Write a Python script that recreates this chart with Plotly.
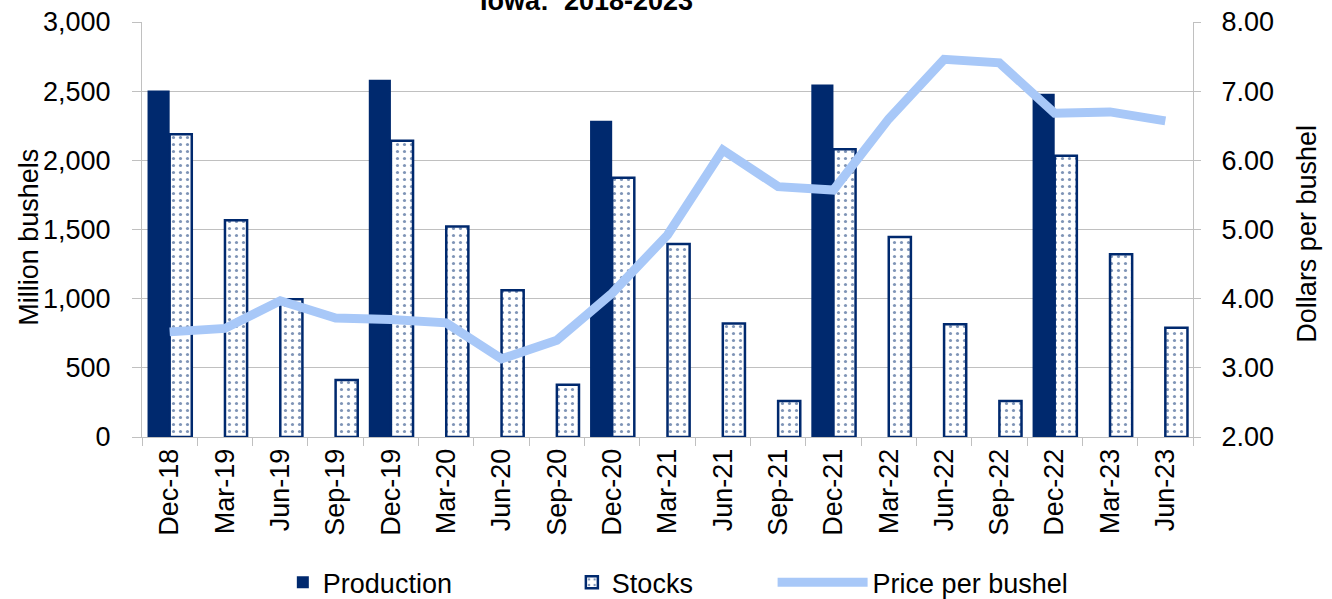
import plotly.graph_objects as go

categories = ["Dec-18", "Mar-19", "Jun-19", "Sep-19", "Dec-19", "Mar-20", "Jun-20", "Sep-20",
              "Dec-20", "Mar-21", "Jun-21", "Sep-21", "Dec-21", "Mar-22", "Jun-22", "Sep-22",
              "Dec-22", "Mar-23", "Jun-23"]
production = [2505, None, None, None, 2582, None, None, None,
              2286, None, None, None, 2549, None, None, None,
              2481, None, None]
stocks = [2188, 1567, 996, 412, 2142, 1522, 1060, 378,
          1875, 1395, 821, 260, 2080, 1446, 815, 260,
          2034, 1321, 789]
price = [3.52, 3.57, 3.97, 3.72, 3.70, 3.65, 3.13, 3.40,
         4.08, 4.92, 6.15, 5.62, 5.57, 6.60, 7.46, 7.41,
         6.68, 6.70, 6.57]

NAVY = "#00296e"
LIGHT = "#a8c8f8"
GRID = "#c0c0c0"
FONT = "Liberation Sans, Arial, sans-serif"
FS = 27

fig = go.Figure()
fig.add_trace(go.Bar(x=categories, y=production, name="Production",
                     marker=dict(color=NAVY, line=dict(width=0)),
                     legend="legend"))
fig.add_trace(go.Bar(x=categories, y=stocks, name="Stocks",
                     marker=dict(color="white", line=dict(color=NAVY, width=2.5),
                                 pattern=dict(shape=".", fgcolor=NAVY, bgcolor="white",
                                              size=7, solidity=0.16, fillmode="overlay")),
                     legend="legend2"))
fig.add_trace(go.Scatter(x=categories, y=price, name="Price per bushel", yaxis="y2",
                         mode="lines", line=dict(color=LIGHT, width=9),
                         legend="legend3"))

leg = dict(orientation="h", y=-0.351, yanchor="middle", xanchor="left",
           font=dict(size=FS), bgcolor="rgba(0,0,0,0)")

PL, PR = 142, 1193
PW = PR - PL

fig.update_layout(
    width=1332, height=599,
    margin=dict(l=PL, r=1332 - PR, t=21.5, b=162, autoexpand=False),
    paper_bgcolor="white", plot_bgcolor="white",
    font=dict(family=FONT, size=FS, color="black"),
    barmode="group", bargap=0.2, bargroupgap=0,
    showlegend=True,
    xaxis=dict(type="category", showline=True, linecolor=GRID, linewidth=1,
               ticks="outside", tickson="boundaries", ticklen=8, tickcolor=GRID,
               tickangle=-90, tickfont=dict(size=FS), showgrid=False, automargin=False),
    yaxis=dict(range=[0, 3000], dtick=500, tickformat=",d", showline=True, linecolor=GRID,
               ticks="outside", ticklen=9, tickcolor=GRID, showgrid=True, gridcolor=GRID,
               gridwidth=1, zeroline=False, ticklabelstandoff=16, automargin=False),
    yaxis2=dict(range=[2, 8], dtick=1, tickformat=".2f", overlaying="y", side="right",
                showline=True, linecolor=GRID, ticks="outside", ticklen=7, tickcolor=GRID,
                showgrid=False, zeroline=False, ticklabelstandoff=15, automargin=False),
    legend=dict(leg, x=0.134),
    legend2=dict(leg, x=0.409),
    legend3=dict(leg, x=0.600, itemwidth=90),
    annotations=[
        dict(text="<b>Iowa:  2018-2023</b>", xref="paper", yref="paper",
             x=(586 - PL) / PW, y=1, yshift=4, xanchor="center", yanchor="bottom",
             showarrow=False, font=dict(size=27, family=FONT)),
        dict(text="Million bushels", xref="paper", yref="paper", textangle=-90,
             x=(29 - PL) / PW, y=0.48, xanchor="center", yanchor="middle",
             showarrow=False, font=dict(size=FS, family=FONT)),
        dict(text="Dollars per bushel", xref="paper", yref="paper", textangle=-90,
             x=(1307 - PL) / PW, y=0.49, xanchor="center", yanchor="middle",
             showarrow=False, font=dict(size=FS, family=FONT)),
    ],
)

fig.write_html("out.html", config={"displayModeBar": False},
               post_script="document.body.style.margin='0px';")
